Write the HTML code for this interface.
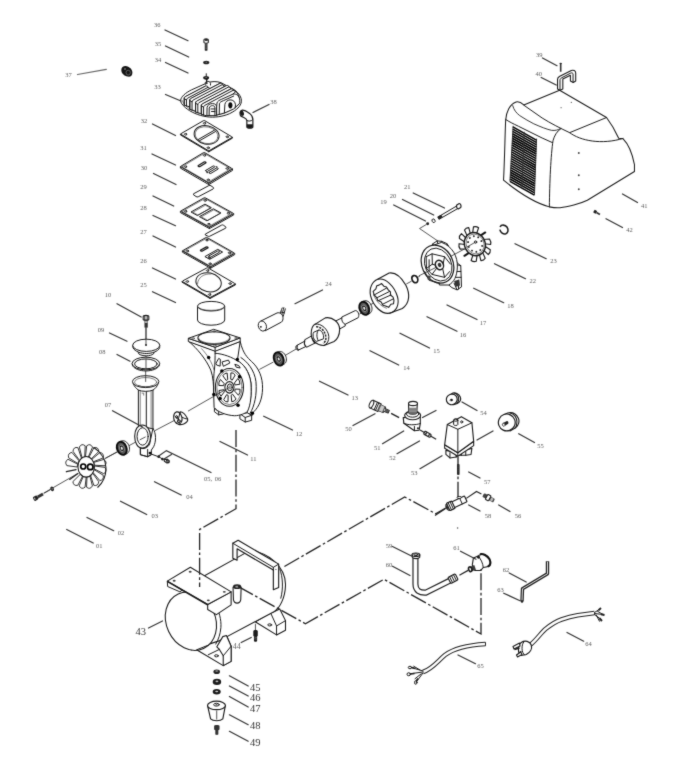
<!DOCTYPE html>
<html lang="en"><head><meta charset="utf-8"><title>Air compressor exploded parts diagram</title>
<style>
html,body{margin:0;padding:0;background:#fff;}
body{width:680px;height:768px;overflow:hidden;}
svg{display:block;}
svg *{vector-effect:non-scaling-stroke;}
.l{fill:none;stroke:#1a1a1a;stroke-width:1;stroke-linecap:round;stroke-linejoin:round;}
.t{fill:none;stroke:#3a3a3a;stroke-width:0.65;stroke-linecap:round;stroke-linejoin:round;}
.w{fill:#fff;stroke:#1a1a1a;stroke-width:1;stroke-linejoin:round;}
.k{fill:#0a0a0a;stroke:none;}
.ld{fill:none;stroke:#333;stroke-width:1.25;stroke-linecap:round;}
.d{fill:none;stroke:#222;stroke-width:1.3;stroke-dasharray:17 2.6 2.6 2.6;}
.c{fill:none;stroke:#2a2a2a;stroke-width:0.8;}
text{font-family:"Liberation Serif","DejaVu Serif",serif;font-size:6.5px;fill:#5c5c5c;}
text.b{font-size:10.5px;fill:#333;}
</style></head>
<body>
<svg width="680" height="768" viewBox="0 0 680 768">
<defs><filter id="soft" x="0" y="0" width="680" height="768" filterUnits="userSpaceOnUse" color-interpolation-filters="sRGB"><feConvolveMatrix order="3" kernelMatrix="0.02 0.08 0.02 0.08 0.6 0.08 0.02 0.08 0.02" divisor="1" edgeMode="duplicate" preserveAlpha="true"/></filter></defs>
<g filter="url(#soft)">
<rect width="680" height="768" fill="#fff"/>
<g id="head33" transform="translate(176,76) scale(0.102941)">
<!-- base flange -->
<path class="w" d="M45,235 C50,200 90,165 150,135 L300,68 C340,50 400,50 440,66 L565,135 C612,165 640,210 635,250 C630,292 590,332 520,366 C450,396 370,406 300,396 C220,385 140,350 90,306 C60,280 42,256 45,235 Z"/>
<path class="t" d="M62,240 C70,275 120,320 195,350 C265,378 350,388 425,372 C505,355 585,312 618,262"/>
<!-- fins back to front -->
<g style="stroke-width:0.98">
<path class="w" d="M80,284 L80,208 L287,98 L335,124 L128,298 Z"/>
<path class="w" d="M80,220 C80,210 86,202 98,196 L287,98 C299,94 311,100 311,110 L112,216 C106,220 102,226 102,234 Z"/>
<path class="l" d="M80,220 L80,284 M102,234 L102,292"/>
<path class="w" d="M134,324 L134,226 L426,72 L474,98 L182,338 Z"/>
<path class="w" d="M134,238 C134,228 140,220 152,214 L426,72 C438,68 450,74 450,84 L166,234 C160,238 156,244 156,252 Z"/>
<path class="l" d="M134,238 L134,324 M156,252 L156,332"/>
<path class="w" d="M190,350 L190,252 L490,93 L538,119 L238,364 Z"/>
<path class="w" d="M190,264 C190,254 196,246 208,240 L490,93 C502,89 514,95 514,105 L222,260 C216,264 212,270 212,278 Z"/>
<path class="l" d="M190,264 L190,350 M212,278 L212,358"/>
<path class="w" d="M246,372 L246,278 L533,126 L581,152 L294,386 Z"/>
<path class="w" d="M246,290 C246,280 252,272 264,266 L533,126 C545,122 557,128 557,138 L278,286 C272,290 268,296 268,304 Z"/>
<path class="l" d="M246,290 L246,372 M268,304 L268,380"/>
</g>
<!-- front boss -->
<path class="w" d="M300,385 L302,305 C305,280 330,268 355,268 C385,268 395,285 395,305 L395,385 Z"/>
<path class="l" d="M322,385 L323,312 C325,295 340,288 355,288 C372,288 378,298 378,312 L378,385"/>
<path class="l" d="M340,320 L378,320 M345,345 L378,345"/>
<!-- right block -->
<path class="w" d="M395,300 L398,262 C402,245 420,235 445,225 L545,180 C575,168 600,180 612,205 C622,228 622,255 615,270 L560,320 L470,360 L395,380 Z"/>
<path class="l" d="M420,372 L422,270 C425,255 440,247 460,240 L560,195"/>
<path class="l" d="M470,358 L475,275 C480,250 500,235 525,232 C555,230 575,250 578,280 L575,310"/>
<ellipse class="k" cx="528" cy="285" rx="20" ry="30"/>
<path class="l" d="M552,125 C580,140 600,165 612,205"/>
<!-- top stud -->
<path class="w" d="M285,85 L285,65 C285,55 300,50 312,52 C325,54 335,62 335,72 L335,92"/>
<path class="l" d="M298,75 L298,30 M290,30 L306,30"/>
</g>
<g id="bolts36" transform="translate(196,30) scale(0.136719)">
<!-- bolt 36 -->
<path class="w" d="M58,72 C58,62 90,62 90,72 L90,92 C90,98 58,98 58,92 Z" style="stroke-width:1.08"/>
<ellipse class="l" cx="74" cy="73" rx="9" ry="4"/>
<path d="M64,97 L84,97 L84,148 C84,153 64,153 64,148 Z" fill="#2a2a2a"/>
<path d="M68,104 L80,106 M68,114 L80,116 M68,124 L80,126 M68,134 L80,136" stroke="#999" stroke-width="0.4" fill="none"/>
<!-- washer 35 -->
<ellipse cx="75" cy="237" rx="23" ry="13" fill="#222"/>
<ellipse cx="75" cy="235" rx="7" ry="3" fill="#aaa"/>
<!-- washer 34 -->
<path class="l" d="M75,320 L75,338 M76,362 L80,392"/>
<ellipse cx="74" cy="349" rx="22" ry="13" fill="#1c1c1c"/>
<ellipse cx="74" cy="346" rx="8" ry="3.5" fill="#999"/>
<!-- elbow 38 -->
<path class="w" d="M338,586 C350,584 372,596 392,610 C408,622 416,636 416,655 L416,708 C416,722 372,722 372,708 L372,662 C372,652 362,646 350,640 L328,630 C318,622 322,590 338,586 Z" style="stroke-width:1.18"/>
<ellipse cx="335" cy="608" rx="15" ry="21" fill="#1a1a1a" transform="rotate(-20 335 608)"/>
<path d="M372,690 L416,690 L416,708 C416,722 372,722 372,708 Z" fill="#1a1a1a"/>
<path class="l" d="M372,662 C380,670 408,668 416,655"/>
</g>
<g id="plug37">
<path d="M121.3,70 C121.3,67 124,65.6 126.6,66.2 C129.5,66.8 132.3,69.2 132.4,72.4 C132.5,75.4 130.5,77.2 127.6,76.6 C124.4,76 121.3,73.4 121.3,70 Z" fill="#151515"/>
<ellipse cx="128.2" cy="72.6" rx="2.2" ry="2.4" fill="none" stroke="#888" stroke-width="0.6"/>
<ellipse cx="125" cy="69" rx="0.9" ry="0.7" fill="#999"/>
</g>

<g id="p32"><path class="w" d="M180.4,134 L180.4,134.9 L208.8,151.8 L232.5,138.1 L232.5,137.2 L208.8,150.9 Z"/>
<path class="l" d="M208.8,150.9 L208.8,151.8"/>
<g transform="matrix(23.7,-13.7,28.4,16.9,180.4,134)">
<g style="vector-effect:non-scaling-stroke" >
<rect class="w" x="0" y="0" width="1" height="1" rx="0.03" vector-effect="non-scaling-stroke"/>
<circle class="l" cx="0.1" cy="0.1" r="0.035" vector-effect="non-scaling-stroke"/>
<circle class="l" cx="0.9" cy="0.1" r="0.035" vector-effect="non-scaling-stroke"/>
<circle class="l" cx="0.1" cy="0.9" r="0.035" vector-effect="non-scaling-stroke"/>
<circle class="l" cx="0.9" cy="0.9" r="0.035" vector-effect="non-scaling-stroke"/>
<path class="l" d="M0.17,0.475 L0.86,0.475 M0.15,0.535 L0.84,0.535" vector-effect="non-scaling-stroke"/>
</g></g><ellipse class="l" cx="206.6" cy="134.9" rx="12.6" ry="9.2" transform="rotate(12 206.6 134.9)"/><ellipse class="t" cx="206.6" cy="135.2" rx="11.6" ry="8.3" transform="rotate(12 206.6 135.2)"/></g>
<g id="p31"><path class="w" d="M180.4,166.5 L180.4,168.1 L208.8,184.6 L232.5,170.4 L232.5,168.8 L208.8,183 Z"/>
<path class="l" d="M208.8,183 L208.8,184.6"/>
<g transform="matrix(23.7,-14.2,28.4,16.5,180.4,166.5)">
<g style="vector-effect:non-scaling-stroke" >
<rect class="w" x="0" y="0" width="1" height="1" rx="0.03" vector-effect="non-scaling-stroke"/>
<rect class="t" x="0.035" y="0.035" width="0.93" height="0.93" vector-effect="non-scaling-stroke"/>
<circle class="l" cx="0.1" cy="0.1" r="0.035" vector-effect="non-scaling-stroke"/>
<circle class="l" cx="0.9" cy="0.1" r="0.035" vector-effect="non-scaling-stroke"/>
<circle class="l" cx="0.1" cy="0.9" r="0.035" vector-effect="non-scaling-stroke"/>
<circle class="l" cx="0.9" cy="0.9" r="0.035" vector-effect="non-scaling-stroke"/>
<rect class="l" x="0.38" y="0.29" width="0.30" height="0.06" rx="0.03" style="stroke-width:1.27" vector-effect="non-scaling-stroke"/>
<rect class="l" x="0.36" y="0.57" width="0.36" height="0.06" rx="0.03" vector-effect="non-scaling-stroke"/>
<rect class="l" x="0.36" y="0.69" width="0.36" height="0.06" rx="0.03" vector-effect="non-scaling-stroke"/>
<circle class="k" cx="0.74" cy="0.66" r="0.025" vector-effect="non-scaling-stroke"/>
<circle class="k" cx="0.34" cy="0.66" r="0.025" vector-effect="non-scaling-stroke"/>
</g></g></g>
<path class="w" d="M193.5,193.8 L208.8,185.6 Q210,185 211,185.8 L213.5,187.6 Q214,188.5 213,189 L198.2,196.8 Q197,197.3 196,196.5 L193.5,194.8 Z"/>
<g id="p28"><path class="w" d="M180.4,211.2 L180.4,212.6 L209.4,228.6 L233.7,214.9 L233.7,213.5 L209.4,227.2 Z"/>
<path class="l" d="M209.4,227.2 L209.4,228.6"/>
<g transform="matrix(24.3,-13.7,29,16,180.4,211.2)">
<g style="vector-effect:non-scaling-stroke" >
<rect class="w" x="0" y="0" width="1" height="1" rx="0.03" vector-effect="non-scaling-stroke"/>
<rect class="t" x="0.035" y="0.035" width="0.93" height="0.93" vector-effect="non-scaling-stroke"/>
<circle class="l" cx="0.1" cy="0.1" r="0.035" vector-effect="non-scaling-stroke"/>
<circle class="l" cx="0.9" cy="0.1" r="0.035" vector-effect="non-scaling-stroke"/>
<circle class="l" cx="0.1" cy="0.9" r="0.035" vector-effect="non-scaling-stroke"/>
<circle class="l" cx="0.9" cy="0.9" r="0.035" vector-effect="non-scaling-stroke"/>
<rect class="l" x="0.20" y="0.21" width="0.56" height="0.22" vector-effect="non-scaling-stroke"/>
<rect class="t" x="0.23" y="0.25" width="0.50" height="0.18" vector-effect="non-scaling-stroke"/>
<rect class="l" x="0.20" y="0.50" width="0.56" height="0.26" vector-effect="non-scaling-stroke"/>
<rect class="t" x="0.23" y="0.54" width="0.50" height="0.22" vector-effect="non-scaling-stroke"/>
</g></g></g>
<path class="w" d="M205.3,234.1 L221.6,225.1 Q222.6,224.6 223.4,225.2 L225.9,227 Q226.4,227.8 225.4,228.3 L209.6,236.3 Q208.6,236.7 207.8,236.1 L205.3,235 Z"/>
<g id="p27"><path class="w" d="M182.4,250.8 L182.4,252.2 L210.6,268.2 L234.7,254.6 L234.7,253.2 L210.6,266.8 Z"/>
<path class="l" d="M210.6,266.8 L210.6,268.2"/>
<g transform="matrix(24.1,-13.6,28.2,16,182.4,250.8)">
<g style="vector-effect:non-scaling-stroke" >
<rect class="w" x="0" y="0" width="1" height="1" rx="0.03" vector-effect="non-scaling-stroke"/>
<rect class="t" x="0.035" y="0.035" width="0.93" height="0.93" vector-effect="non-scaling-stroke"/>
<circle class="l" cx="0.1" cy="0.1" r="0.035" vector-effect="non-scaling-stroke"/>
<circle class="l" cx="0.9" cy="0.1" r="0.035" vector-effect="non-scaling-stroke"/>
<circle class="l" cx="0.1" cy="0.9" r="0.035" vector-effect="non-scaling-stroke"/>
<circle class="l" cx="0.9" cy="0.9" r="0.035" vector-effect="non-scaling-stroke"/>
<rect class="l" x="0.38" y="0.30" width="0.28" height="0.06" rx="0.03" style="stroke-width:1.37" vector-effect="non-scaling-stroke"/>
<rect class="l" x="0.27" y="0.58" width="0.52" height="0.17" vector-effect="non-scaling-stroke"/>
<rect class="l" x="0.33" y="0.63" width="0.42" height="0.07" rx="0.035" vector-effect="non-scaling-stroke"/>
<circle class="l" cx="0.30" cy="0.70" r="0.03" vector-effect="non-scaling-stroke"/>
</g></g></g>
<g id="p26"><path class="w" d="M182,281.3 L182,282.2 L210,298.5 L235.5,284.8 L235.5,283.9 L210,297.6 Z"/>
<path class="l" d="M210,297.6 L210,298.5"/>
<g transform="matrix(25.5,-13.7,28,16.3,182,281.3)">
<g style="vector-effect:non-scaling-stroke" >
<rect class="w" x="0" y="0" width="1" height="1" rx="0.03" vector-effect="non-scaling-stroke"/>
<circle class="l" cx="0.1" cy="0.1" r="0.035" vector-effect="non-scaling-stroke"/>
<circle class="l" cx="0.9" cy="0.1" r="0.035" vector-effect="non-scaling-stroke"/>
<circle class="l" cx="0.1" cy="0.9" r="0.035" vector-effect="non-scaling-stroke"/>
<circle class="l" cx="0.9" cy="0.9" r="0.035" vector-effect="non-scaling-stroke"/>
</g></g><ellipse class="l" cx="208.6" cy="282.3" rx="12.8" ry="9.4" transform="rotate(12 208.6 282.3)"/><path class="t" d="M197.5,284 C198,277 204,273.5 211,274"/></g>
<g id="p25"><path class="w" d="M197.5,306.2 L197.5,320 A13.6,5.2 0 0 0 224.7,320 L224.7,306.2 Z"/><ellipse class="w" cx="211.1" cy="306.2" rx="13.6" ry="4.8"/><path class="t" d="M198.5,307.2 C200,311.5 222,311.5 223.7,307.2"/></g>
<g id="rod07" transform="translate(100,370) scale(0.132353)">
<!-- axis lines -->
<path class="c" d="M40,668 L300,528 M415,458 L560,382"/>
<!-- rod body -->
<path class="w" d="M250,100 C258,125 275,140 290,152 L290,420 L400,445 L400,152 C418,140 435,122 440,100 Z"/>
<path class="t" d="M304,160 L304,415 M386,160 L386,440"/><path class="l" d="M350,165 L350,430"/>
<path class="l" d="M290,152 C320,165 370,165 400,152"/>
<path class="t" d="M318,175 L330,175 L330,190"/>
<!-- top cup -->
<ellipse class="w" cx="345" cy="88" rx="100" ry="45"/>
<ellipse class="t" cx="345" cy="92" rx="84" ry="35"/>
<path class="t" d="M290,118 C320,130 370,130 400,118"/>
<path class="c" d="M345,0 L345,90"/>
<!-- big end -->
<path class="w" d="M400,440 C425,480 425,540 405,580 L388,605 L388,640 L360,655 L305,640 L305,590 C330,600 360,590 375,560 Z"/>
<path class="w" d="M320,415 C355,415 382,455 382,505 C382,555 355,590 320,590 C285,590 262,550 262,500 C262,452 285,415 320,415 Z" style="stroke-width:1.08"/>
<ellipse class="l" cx="322" cy="502" rx="42" ry="66"/>
<path class="l" d="M305,590 L305,640 L360,655 L360,600 M360,655 L388,640"/>
<circle class="k" cx="378" cy="628" r="11"/>
<path class="c" d="M300,528 L345,505"/>
</g>
<g id="cw" transform="translate(140,400) scale(0.091185)">

<path class="w" d="M440,128 C470,130 500,160 522,205 C528,225 510,250 480,262 C460,270 440,272 425,268 Z" style="stroke-width:1.08"/>
<path class="l" d="M462,190 C480,200 505,208 522,210"/>
<ellipse class="w" cx="415" cy="197" rx="45" ry="68" style="stroke-width:1.13" transform="rotate(-12 415 197)"/>
<path class="l" d="M420,215 L438,138 M420,215 L382,175 M420,215 L400,258"/>
<ellipse class="l" cx="428" cy="232" rx="13" ry="17"/>
<ellipse class="l" cx="402" cy="185" rx="10" ry="15"/>
<!-- items 05 06 -->
<path class="l" d="M132,596 L192,618 M215,628 L238,642"/>
<circle cx="205" cy="622" r="15" fill="#1a1a1a"/>
<circle cx="246" cy="648" r="15" fill="#1a1a1a"/>
<path class="w" d="M262,652 L300,650 L322,668 L318,688 L292,690 L268,672 Z" style="stroke-width:1.13"/>
<path class="l" d="M285,652 L300,688 M300,650 L312,686"/>
<path class="ld" d="M268,645 L345,597" style="stroke-width:1.18"/>
</g>
<g id="cap09" transform="translate(110,300) scale(0.117647)">
<path class="c" d="M306,235 L306,380 M306,475 L306,600"/>
<!-- bolt 10 -->
<path class="w" d="M282,140 C282,128 330,128 330,140 L330,165 C330,173 282,173 282,165 Z" style="stroke-width:1.08"/>
<path class="l" d="M296,133 L296,170 M316,133 L316,170"/>
<path d="M293,172 L321,172 L321,232 C321,238 293,238 293,232 Z" fill="#333"/>
<path d="M295,180 L319,180 L319,195 L295,195 Z" fill="#bbb"/>
<!-- cap -->
<path class="w" d="M232,420 L245,458 C270,480 345,480 370,458 L385,420 Z"/>
<path class="w" d="M193,385 L195,405 C210,440 270,455 308,455 C350,455 410,440 422,405 L423,385 Z"/>
<ellipse class="w" cx="308" cy="385" rx="115" ry="52"/>
<circle class="k" cx="306" cy="382" r="8"/><path class="c" d="M306,235 L306,380"/>
<!-- ring 08 -->
<path class="w" d="M188,540 L190,552 C200,585 255,603 305,603 C355,603 412,585 420,552 L422,540 Z"/>
<ellipse class="w" cx="305" cy="540" rx="117" ry="54"/>
<ellipse class="l" cx="305" cy="543" rx="96" ry="42"/>
<path class="c" d="M306,500 L306,585"/>
</g>
<g id="bearing_rod"><g transform="translate(121.8,448.3) rotate(-22)">
<path d="M0,-6.9 L2.2,-6.9 C5.4,-6.9 7.6,-3.8 7.6,0 C7.6,3.8 5.4,6.9 2.2,6.9 L0,6.9 Z" fill="#fff" stroke="#222" stroke-width="0.98"/>
<ellipse cx="0" cy="0" rx="4.7" ry="6.8" fill="#555" stroke="#0a0a0a" stroke-width="1.86"/>
<ellipse cx="0" cy="0" rx="2.2" ry="3.4" fill="#111" stroke="#eee" stroke-width="0.5"/>
<ellipse cx="0" cy="0" rx="1" ry="1.6" fill="#eee"/>
</g></g>

<g id="fan03" transform="translate(25,435) scale(0.132353)">
<path class="c" d="M140,440 L400,290 M600,180 L700,125"/>
<path class="w" style="stroke-width:0.88" d="M525.0,234.0 L604.0,244.7 Q624.1,274.0 595.1,292.6 L523.0,255.9 Z"/>
<path class="w" style="stroke-width:0.88" d="M521.5,261.2 L590.7,303.9 Q598.8,339.4 565.5,344.5 L511.8,280.7 Z"/>
<path class="w" style="stroke-width:0.88" d="M508.6,285.0 L557.5,353.1 Q552.5,389.2 519.9,380.1 L492.8,298.9 Z"/>
<path class="w" style="stroke-width:0.88" d="M488.3,301.5 L509.4,384.8 Q492.1,416.1 465.1,394.1 L468.8,307.9 Z"/>
<path class="w" style="stroke-width:0.88" d="M463.7,308.4 L453.8,394.1 Q426.7,415.8 409.6,384.4 L443.4,306.2 Z"/>
<path class="w" style="stroke-width:0.88" d="M438.6,304.6 L399.2,379.6 Q366.5,388.5 361.8,352.3 L420.6,294.2 Z"/>
<path d="M400.0,291.2 L337.7,335.7" stroke="#222" stroke-width="1.27" fill="none" stroke-linecap="round"/>
<path d="M385.8,262.2 L312.6,277.6" stroke="#222" stroke-width="1.27" fill="none" stroke-linecap="round"/>
<path class="w" style="stroke-width:0.88" d="M395.0,242.0 L316.0,231.3 Q295.9,202.0 324.9,183.4 L397.0,220.1 Z"/>
<path class="w" style="stroke-width:0.88" d="M398.5,214.8 L329.3,172.1 Q321.2,136.6 354.5,131.5 L408.2,195.3 Z"/>
<path class="w" style="stroke-width:0.88" d="M411.4,191.0 L362.5,122.9 Q367.5,86.8 400.1,95.9 L427.2,177.1 Z"/>
<path class="w" style="stroke-width:0.88" d="M431.7,174.5 L410.6,91.2 Q427.9,59.9 454.9,81.9 L451.2,168.1 Z"/>
<path class="w" style="stroke-width:0.88" d="M456.3,167.6 L466.2,81.9 Q493.3,60.2 510.4,91.6 L476.6,169.8 Z"/>
<path class="w" style="stroke-width:0.88" d="M481.4,171.4 L520.8,96.4 Q553.5,87.5 558.2,123.7 L499.4,181.8 Z"/>
<path class="w" style="stroke-width:0.88" d="M503.3,185.3 L566.2,132.4 Q599.5,137.7 591.1,173.1 L516.2,202.4 Z"/>
<path class="w" style="stroke-width:0.88" d="M518.6,207.3 L595.4,184.5 Q624.3,203.3 604.1,232.4 L524.5,228.5 Z"/>
<path class="l" d="M520,95 C575,130 610,190 612,250 C612,310 590,360 550,395" style="stroke-width:1.08"/>
<ellipse class="w" cx="462" cy="240" rx="62" ry="78" style="stroke-width:1.08"/>
<circle cx="440" cy="238" r="19" fill="#fff" stroke="#000" stroke-width="1.67"/>
<circle cx="493" cy="241" r="21" fill="#fff" stroke="#000" stroke-width="1.67"/>
<g transform="rotate(-30 85 475)"><rect x="62" y="458" width="36" height="34" rx="10" fill="#222"/><ellipse cx="72" cy="475" rx="5" ry="9" fill="#bbb"/><rect x="98" y="464" width="46" height="22" fill="#333"/></g>
<ellipse cx="205" cy="407" rx="13" ry="18" fill="#222" transform="rotate(-25 205 407)"/><ellipse cx="205" cy="407" rx="4" ry="7" fill="#aaa"/>
<path class="c" d="M145,440 L192,413"/>
</g>
<g id="case12" transform="translate(180,320) scale(0.143312)">
<path class="w" d="M420,150 C440,235 470,262 500,290 C550,335 578,400 576,480 C574,550 552,605 515,640 L505,665 L470,650 L400,300 L395,200 Z"/>
<path class="l" d="M400,285 C440,300 485,360 495,440 C502,520 490,590 465,635"/>
<path class="l" d="M425,262 C470,290 520,350 530,430 C538,520 520,600 490,650"/>
<path class="w" d="M240,615 L240,640 L270,662 L305,655 L305,630 Z"/><path class="l" d="M270,640 L270,662 M240,615 L270,640 L305,630"/>
<path class="w" d="M418,655 L418,690 L455,712 L500,700 L500,665 L470,648 Z"/><path class="l" d="M455,680 L455,712 M418,655 L455,680 L500,665"/>
<path class="w" d="M62,150 C120,200 180,270 215,350 C232,400 235,450 235,520 L238,610 C260,640 320,665 380,668 C420,668 455,650 470,640 C495,590 500,520 495,440 C485,360 440,300 400,285 L420,150 L245,215 Z"/>
<path class="l" d="M245,215 C245,260 245,300 240,350 C235,380 235,420 235,520"/>
<path class="t" d="M150,200 C190,240 225,300 238,350"/>
<path class="l" d="M245,232 C300,235 370,262 400,285"/>
<ellipse class="w" cx="345" cy="470" rx="98" ry="132" style="stroke-width:1.08"/>
<ellipse class="t" cx="345" cy="470" rx="88" ry="120"/>
<path class="l" d="M388,482 L419,483 Q422,508 408,525 L384,499 Z"/>
<path class="l" d="M369,520 L391,551 Q380,571 361,570 L357,528 Z"/>
<path class="l" d="M336,529 L335,571 Q317,575 305,556 L324,523 Z"/>
<path class="l" d="M308,503 L286,532 Q271,517 272,492 L303,487 Z"/>
<path class="l" d="M302,458 L271,457 Q268,432 282,415 L306,441 Z"/>
<path class="l" d="M321,420 L299,389 Q310,369 329,370 L333,412 Z"/>
<path class="l" d="M354,411 L355,369 Q373,365 385,384 L366,417 Z"/>
<path class="l" d="M382,437 L404,408 Q419,423 418,448 L387,453 Z"/>
<ellipse class="w" cx="345" cy="470" rx="32" ry="40" style="stroke-width:1.08"/>
<ellipse class="l" cx="348" cy="470" rx="18" ry="24"/>
<ellipse class="t" cx="350" cy="470" rx="8" ry="11"/>
<path class="l" d="M252,300 L270,268 L282,275 L280,322 L258,315 Z"/>
<path class="l" d="M296,292 L338,280 L348,300 L305,322 Z"/>
<path class="l" d="M385,310 L410,318 L420,335 L395,330 Z"/>
<circle cx="200" cy="262" r="12" fill="#000"/>
<circle cx="400" cy="276" r="12" fill="#000"/>
<circle cx="292" cy="355" r="12" fill="#000"/>
<circle cx="415" cy="396" r="12" fill="#000"/>
<circle cx="280" cy="548" r="12" fill="#000"/>
<circle cx="405" cy="595" r="12" fill="#000"/>
<circle cx="505" cy="650" r="12" fill="#000"/>
<circle cx="236" cy="520" r="12" fill="#000"/>
<path class="w" d="M58,128 L58,150 L245,218 L420,150 L420,125 L245,190 Z"/>
<path class="l" d="M245,190 L245,218"/>
<path class="w" d="M58,128 L235,65 L420,125 L245,190 Z"/>
<ellipse class="l" cx="237" cy="126" rx="112" ry="44" style="stroke-width:1.08"/>
<path class="t" d="M130,128 C135,150 190,165 240,164 C290,163 335,148 345,128"/>
<ellipse class="t" cx="92" cy="128" rx="9" ry="5"/>
<ellipse class="t" cx="243" cy="176" rx="9" ry="5"/>
<ellipse class="t" cx="390" cy="126" rx="9" ry="5"/>
<ellipse class="t" cx="238" cy="80" rx="9" ry="5"/>
<path class="c" d="M56,636 L345,470"/>
</g>
<g id="motorA" transform="translate(255,290) scale(0.147059)">
<path class="c" d="M30,540 L125,490 M205,445 L282,400"/>
<!-- capacitor 24 -->
<path class="l" d="M172,168 C172,150 180,135 185,122 M182,172 C185,155 192,140 196,120 M192,178 C196,160 202,150 206,128 M178,150 L200,155"/>
<path class="w" d="M38,212 L150,156 C170,150 188,165 190,185 C192,200 188,212 180,218 L68,278 Z"/>
<ellipse class="w" cx="50" cy="245" rx="27" ry="35" transform="rotate(-20 50 245)"/>
<circle class="k" cx="40" cy="250" r="6"/>
</g>
<g id="motorB" transform="translate(320,260) scale(0.147059)">
<path class="c" d="M268,368 L285,358"/>
<!-- oring 16 -->

</g>
<g id="rotor13" transform="translate(290,300) scale(0.117647)">
<!-- right shaft -->
<path class="w" d="M375,185 L440,153 L440,145 L555,90 C580,88 592,130 580,150 L468,207 L470,220 L415,250 Z"/>
<path class="l" d="M440,153 C436,175 450,200 468,207"/>
<!-- left shaft -->
<path class="w" d="M58,386 L125,350 L125,338 L190,302 L200,275 L250,252 L285,330 L215,365 L140,402 L136,395 L70,426 C50,428 42,392 58,386 Z"/>
<path class="l" d="M125,350 C120,368 126,388 136,395 M190,302 C184,325 195,355 212,366 M62,388 C56,400 62,418 72,424" style="stroke-width:1.18"/>
<!-- body -->
<path class="w" d="M215,205 L300,152 C360,140 422,190 422,250 C422,300 400,340 375,352 L290,386 C230,390 180,340 180,290 C180,250 195,215 215,205 Z" style="stroke-width:1.13"/>
<path class="l" d="M215,205 C265,195 325,250 330,310 C332,345 318,375 290,386"/>
<path d="M222,228 C260,225 300,265 305,312 C308,340 298,360 280,368" fill="none" stroke="#222" stroke-width="1.47" stroke-dasharray="2.2 1"/>
<path class="w" d="M200,275 L245,255 C270,258 290,290 285,330 L225,352 C200,345 190,300 200,275 Z"/>
<path class="l" d="M245,255 C225,262 222,320 240,345"/>
</g>
<g id="bearings"><g transform="translate(278.7,359) rotate(-22)">
<path d="M0,-6.9 L2.2,-6.9 C5.4,-6.9 7.6,-3.8 7.6,0 C7.6,3.8 5.4,6.9 2.2,6.9 L0,6.9 Z" fill="#fff" stroke="#222" stroke-width="0.98"/>
<ellipse cx="0" cy="0" rx="4.7" ry="6.8" fill="#555" stroke="#0a0a0a" stroke-width="1.86"/>
<ellipse cx="0" cy="0" rx="2.2" ry="3.4" fill="#111" stroke="#eee" stroke-width="0.5"/>
<ellipse cx="0" cy="0" rx="1" ry="1.6" fill="#eee"/>
</g><g transform="translate(364.3,308.3) rotate(-22)">
<path d="M0,-6.9 L2.2,-6.9 C5.4,-6.9 7.6,-3.8 7.6,0 C7.6,3.8 5.4,6.9 2.2,6.9 L0,6.9 Z" fill="#fff" stroke="#222" stroke-width="0.98"/>
<ellipse cx="0" cy="0" rx="4.7" ry="6.8" fill="#555" stroke="#0a0a0a" stroke-width="1.86"/>
<ellipse cx="0" cy="0" rx="2.2" ry="3.4" fill="#111" stroke="#eee" stroke-width="0.5"/>
<ellipse cx="0" cy="0" rx="1" ry="1.6" fill="#eee"/>
</g></g>
<g id="stator15" transform="translate(360,265) scale(0.088235)">
<path class="c" d="M110,455 L165,425 M525,215 L585,183 M660,135 L680,125"/>
<path class="w" d="M200,162 L330,90 C400,80 470,140 520,230 C565,320 570,430 480,492 L335,546 C250,560 150,470 120,350 C100,260 140,185 200,162 Z" style="stroke-width:1.13"/>
<path class="l" d="M200,162 C290,140 390,240 425,360 C450,450 410,530 335,546" style="stroke-width:1.08"/>
<path class="l" d="M150,300 L180,270 L190,235 L215,228 L245,210 L270,240 L300,250 L320,282 L345,305 L345,340 L375,365 L385,400 L380,440 L350,445 L325,480 L290,465 L260,455 L240,420 L200,400 L190,370 L160,340 Z" style="stroke-width:1.08"/>
<path class="l" d="M160,340 L300,262 M190,372 L335,300 M205,405 L350,340 M250,448 L375,385"/>
<path class="t" d="M150,300 C150,380 230,470 300,490"/>
<ellipse cx="622" cy="160" rx="32" ry="42" fill="#fff" stroke="#151515" stroke-width="1.67" transform="rotate(-20 622 160)"/>
</g>

<g id="bell18" transform="translate(410,195) scale(0.147059)">
<path class="c" d="M112,200 L65,228 L188,312"/>
<path class="w" d="M190,150 L322,72 L332,88 L198,165 Z"/>
<path d="M186,148 L212,134 L222,150 L196,166 Z" fill="#222"/>
<path class="w" d="M318,68 L335,58 C345,58 350,75 345,85 L328,95 C318,92 314,78 318,68 Z" style="stroke-width:1.18"/>
<ellipse class="w" cx="160" cy="175" rx="10" ry="13" transform="rotate(-25 160 175)"/>
<circle cx="120" cy="195" r="10" fill="#222"/>
<path class="w" d="M250,330 L262,345 L262,400 L330,470 L345,480 L348,560 L350,625 L320,645 L285,630 L250,600 Z"/>
<path class="l" d="M300,470 L345,480 M310,560 L348,560 M300,600 L320,645 M315,520 L345,520 M330,580 L330,640"/>
<path d="M300,585 L335,575 L340,615 L310,625 Z" fill="#333"/>
<path class="w" d="M150,335 L185,312 L215,315 L250,330 L250,360 L180,350 Z"/>
<path class="l" d="M185,312 L190,335 M215,315 L218,340"/>
<path class="w" d="M150,345 L215,322 C290,350 325,420 322,490 C320,550 300,595 262,612 L200,612 Z"/>
<ellipse class="w" cx="187" cy="470" rx="105.5" ry="134" style="stroke-width:1.23" transform="rotate(-25 187 470)"/>
<ellipse class="l" cx="192" cy="473" rx="89" ry="116" transform="rotate(-25 192 473)"/>
<path class="l" d="M110,420 L150,400 L235,420 L275,470 M110,420 L112,500 L150,540 L235,560 L270,520 M150,400 L152,470 M152,470 L112,500 M152,470 L180,480 M235,420 L225,470 M235,560 L222,500 M150,540 L180,500"/>
<path class="l" d="M100,520 L130,580 L200,600 M130,440 L130,510"/>
<ellipse class="w" cx="200" cy="476" rx="27" ry="33" style="stroke-width:1.47" transform="rotate(-25 200 476)"/>
<ellipse cx="201" cy="476" rx="12" ry="15" fill="#333" transform="rotate(-25 201 476)"/>
<path d="M118,545 L140,552 L138,585 L120,575 Z" fill="#444"/>
<path class="c" d="M60,550 L178,492 M272,420 L440,330"/>
<g transform="rotate(-25 441 334)">
<path class="w" style="stroke-width:1.13" d="M507,330 L546,345 Q550,366 537,382 L503,360 Z"/>
<path class="w" style="stroke-width:1.13" d="M497,376 L520,413 Q513,433 494,437 L478,397 Z"/>
<path class="w" style="stroke-width:1.13" d="M465,405 L464,451 Q448,462 431,453 L439,410 Z"/>
<path class="w" style="stroke-width:1.13" d="M424,407 L400,444 Q381,442 371,424 L400,394 Z"/>
<path d="M379,371 L343,376" stroke="#111" stroke-width="1.96" fill="none" stroke-linecap="round"/>
<path class="w" style="stroke-width:1.13" d="M375,338 L336,323 Q332,302 345,286 L379,308 Z"/>
<path class="w" style="stroke-width:1.13" d="M385,292 L362,255 Q369,235 388,231 L404,271 Z"/>
<path class="w" style="stroke-width:1.13" d="M417,263 L418,217 Q434,206 451,215 L443,258 Z"/>
<path class="w" style="stroke-width:1.13" d="M458,261 L482,224 Q501,226 511,244 L482,274 Z"/>
<path d="M503,297 L539,292" stroke="#111" stroke-width="1.96" fill="none" stroke-linecap="round"/>
<ellipse class="w" cx="441" cy="334" rx="70" ry="80" style="stroke-width:1.47"/>
<ellipse class="t" cx="443" cy="334" rx="60" ry="69"/>
<circle cx="490" cy="334" r="6.5" fill="#222"/>
<circle cx="481" cy="366" r="6.5" fill="#222"/>
<circle cx="458" cy="386" r="6.5" fill="#222"/>
<circle cx="428" cy="386" r="6.5" fill="#222"/>
<circle cx="405" cy="366" r="6.5" fill="#222"/>
<circle cx="396" cy="334" r="6.5" fill="#222"/>
<circle cx="405" cy="302" r="6.5" fill="#222"/>
<circle cx="428" cy="282" r="6.5" fill="#222"/>
<circle cx="458" cy="282" r="6.5" fill="#222"/>
<circle cx="481" cy="302" r="6.5" fill="#222"/>
</g>
<circle class="l" cx="446" cy="320" r="8"/>
<path class="c" d="M385,355 L446,320"/>
<path d="M618,212 C630,196 656,204 664,226 C670,246 660,264 644,266 C626,267 611,248 612,228" fill="none" stroke="#1a1a1a" stroke-width="1.57" transform="rotate(-15 638 235)"/>
</g>
<g id="cover41" transform="translate(495,80) scale(0.213235)">
<path class="w" d="M99,103 C110,100 125,108 135,117 L303,48 L523,176 C545,205 565,240 580,273 L600,275 C625,300 645,350 654,397 L654,429 L433,564 C400,580 340,597 305,599 C290,600 270,598 255,595 C200,580 120,535 40,470 C45,380 47,250 50,189 C52,150 70,112 99,103 Z" style="stroke-width:1.03"/>
<path class="l" d="M135,118 L221,178 C260,203 310,228 350,247 L523,176"/>
<path class="l" d="M83,120 C88,140 100,155 116,167 C140,182 160,195 182,205.5 C215,220 245,232 265,236 C282,238 295,235 306,228" style="stroke-width:0.88"/>
<path class="l" d="M50,185 C65,195 85,205 110,217 L221,272 L270,294"/>
<path class="l" d="M309,228 C290,240 278,262 272,285 C262,350 256,480 255,595"/>
<path class="l" d="M350,247 C400,285 500,305 600,274"/>
<path d="M84.0,220.0 L196.0,283.0" stroke="#000" stroke-width="1.52" fill="none"/>
<path d="M83.4,230.6 L195.5,293.7" stroke="#000" stroke-width="1.52" fill="none"/>
<path d="M82.8,241.2 L195.1,304.4" stroke="#000" stroke-width="1.52" fill="none"/>
<path d="M82.2,251.9 L194.6,315.1" stroke="#000" stroke-width="1.52" fill="none"/>
<path d="M81.7,262.5 L194.2,325.8" stroke="#000" stroke-width="1.52" fill="none"/>
<path d="M81.1,273.1 L193.7,336.5" stroke="#000" stroke-width="1.52" fill="none"/>
<path d="M80.5,283.8 L193.2,347.2" stroke="#000" stroke-width="1.52" fill="none"/>
<path d="M79.9,294.4 L192.8,358.0" stroke="#000" stroke-width="1.52" fill="none"/>
<path d="M79.3,305.0 L192.3,368.7" stroke="#000" stroke-width="1.52" fill="none"/>
<path d="M78.8,315.6 L191.9,379.4" stroke="#000" stroke-width="1.52" fill="none"/>
<path d="M78.2,326.2 L191.4,390.1" stroke="#000" stroke-width="1.52" fill="none"/>
<path d="M77.6,336.9 L191.0,400.8" stroke="#000" stroke-width="1.52" fill="none"/>
<path d="M77.0,347.5 L190.5,411.5" stroke="#000" stroke-width="1.52" fill="none"/>
<path d="M76.4,358.1 L190.0,422.2" stroke="#000" stroke-width="1.52" fill="none"/>
<path d="M75.8,368.8 L189.6,432.9" stroke="#000" stroke-width="1.52" fill="none"/>
<path d="M75.2,379.4 L189.1,443.6" stroke="#000" stroke-width="1.52" fill="none"/>
<path d="M74.7,390.0 L188.7,454.3" stroke="#000" stroke-width="1.52" fill="none"/>
<path d="M74.1,400.6 L188.2,465.0" stroke="#000" stroke-width="1.52" fill="none"/>
<path d="M73.5,411.2 L187.8,475.8" stroke="#000" stroke-width="1.52" fill="none"/>
<path d="M72.9,421.9 L187.3,486.5" stroke="#000" stroke-width="1.52" fill="none"/>
<path d="M72.3,432.5 L186.8,497.2" stroke="#000" stroke-width="1.52" fill="none"/>
<path d="M71.8,443.1 L186.4,507.9" stroke="#000" stroke-width="1.52" fill="none"/>
<path d="M71.2,453.8 L185.9,518.6" stroke="#000" stroke-width="1.52" fill="none"/>
<path d="M70.6,464.4 L185.5,529.3" stroke="#000" stroke-width="1.52" fill="none"/>
<path d="M70.0,475.0 L185.0,540.0" stroke="#000" stroke-width="1.52" fill="none"/>
<path d="M85,215 L70,475 M195,275 L185,540" stroke="#222" stroke-width="0.88" fill="none"/>
<path d="M137,243 L126,505" stroke="#333" stroke-width="0.98" fill="none"/>
<circle cx="310" cy="130" r="3" fill="#666"/>
<circle cx="358" cy="105" r="3" fill="#666"/>
<circle cx="393" cy="342" r="4.5" fill="#444"/>
<circle cx="393" cy="447" r="4.5" fill="#444"/>
<circle cx="393" cy="512" r="4.5" fill="#444"/>
</g>
<g id="handle40" transform="translate(490,40) scale(0.25)">
<g transform="translate(160,20) scale(0.35294)"><path class="w" d="M312,500 L312,388 C312,372 322,362 338,354 L468,288 C492,280 518,292 518,316 L518,408 L490,424 L458,408 L458,342 L372,386 L372,500 L340,512 Z" style="stroke-width:1.08"/><path class="l" d="M340,512 L340,398 C340,386 348,378 358,372 L462,318 C476,312 488,318 488,330 L488,424"/></g>
<path d="M279.5,95 L286,95 L286,127 L279.5,127 Z" fill="#333"/><ellipse cx="282.7" cy="94" rx="5" ry="3" fill="#222"/>
<g transform="rotate(30 427 690)"><rect x="414" y="684" width="12" height="13" rx="3" fill="#222"/><rect x="426" y="687" width="16" height="7" fill="#333"/></g>
</g>
<g id="p50_52" transform="translate(365,390) scale(0.117647)">
<!-- coupler 50 -->
<g transform="rotate(24 55 120)">
<path class="w" d="M55,85 L130,85 L130,95 L175,95 L175,108 L215,108 L215,132 L175,132 L175,145 L130,145 L130,155 L55,155 Z" style="stroke-width:1.08"/>
<path d="M120,92 L175,92 L175,148 L120,148 Z" fill="#555"/>
<path d="M135,96 L165,96 L165,144 L135,144 Z" fill="#ccc"/>
<path d="M180,108 L210,108 L210,132 L180,132 Z" fill="#555"/>
<path class="l" d="M95,85 L95,155 M108,85 L108,155"/>
<ellipse class="w" cx="55" cy="120" rx="16" ry="35" style="stroke-width:1.08"/>
</g>
<path d="M222,198 L290,235" stroke="#222" stroke-width="1.37" fill="none"/>
<!-- regulator 51 -->
<path class="w" d="M325,235 L330,282 L420,346 L460,342 L470,285 L470,225 Z" style="stroke-width:1.13"/>
<path class="l" d="M330,282 C360,300 430,300 470,285 M420,346 L420,310"/>
<ellipse class="w" cx="405" cy="215" rx="68" ry="38" style="stroke-width:1.13"/>
<ellipse class="l" cx="405" cy="205" rx="52" ry="26"/>
<path class="w" d="M370,115 L372,195 C380,210 432,210 440,195 L445,115 Z" style="stroke-width:1.08"/>
<path d="M372,150 L442,150 L441,195 C432,210 380,210 372,195 Z" fill="#666"/>
<path d="M374,160 L440,160 M374,172 L440,172 M374,184 L440,184" stroke="#ddd" stroke-width="0.4" fill="none"/>
<ellipse class="w" cx="408" cy="115" rx="38" ry="18" style="stroke-width:1.08"/>
<circle cx="450" cy="326" r="9" fill="#222"/>
<!-- nipple 52 -->
<path d="M468,340 L605,418" stroke="#222" stroke-width="1.18" fill="none"/>
<g transform="rotate(30 530 376)"><rect x="500" y="362" width="62" height="28" rx="8" fill="#fff" stroke="#222" stroke-width="1.18"/><rect x="510" y="362" width="14" height="28" fill="#333"/><rect x="540" y="362" width="12" height="28" fill="#333"/></g>
</g>
<g id="p53_58" transform="translate(435,385) scale(0.175781)">
<!-- pressure switch 53 -->
<path class="w" d="M62,372 L62,395 L85,415 L120,410 L130,400 L175,400 L205,395 L210,360 L130,385 Z" style="stroke-width:1.08"/>
<path class="l" d="M85,385 L85,415 M120,390 L120,410 M175,375 L175,400 M150,385 L150,400"/>
<path class="w" d="M55,340 L55,360 L130,405 L220,345 L220,320 L130,385 Z" style="stroke-width:1.08"/>
<path class="w" d="M70,225 L150,180 L210,215 L220,320 L130,385 L55,340 Z" style="stroke-width:1.13"/>
<path class="l" d="M70,225 L130,252 L210,215 M130,252 L130,385 M130,385 L130,405"/>
<path class="w" d="M106,200 C106,190 130,190 130,200 L130,225 C130,232 106,232 106,225 Z"/>
<ellipse class="l" cx="118" cy="200" rx="12" ry="6"/>
<circle class="l" cx="152" cy="210" r="6"/>
<!-- nipple 57 and dash line -->
<rect x="125" y="450" width="15" height="62" rx="5" fill="#333"/>
<path d="M129,460 L136,460 M129,470 L136,470 M129,480 L136,480 M129,490 L136,490" stroke="#bbb" stroke-width="0.4"/>
<!-- tee 58 -->
<g transform="rotate(-25 120 672)">
<rect x="62" y="655" width="118" height="36" rx="4" class="w" style="stroke-width:1.13"/>
<rect x="70" y="650" width="32" height="46" rx="3" class="w" style="stroke-width:1.13"/>
<path class="l" d="M80,650 L80,696 M92,650 L92,696 M150,655 L150,691"/>
<rect x="56" y="662" width="14" height="22" fill="#333"/>
</g>
<ellipse class="w" cx="138" cy="640" rx="12" ry="6"/>
<path d="M178,645 L236,606 L264,620" fill="none" stroke="#222" stroke-width="1.18"/>
<path d="M0,742 L58,704" fill="none" stroke="#222" stroke-width="1.18"/>
<!-- part 56 -->
<g transform="rotate(28 305 642)">
<rect x="270" y="630" width="70" height="24" rx="6" fill="#444"/>
<rect x="292" y="626" width="20" height="32" rx="3" fill="#fff" stroke="#222" stroke-width="1.08"/>
<rect x="318" y="633" width="14" height="18" fill="#bbb"/>
</g>
</g>
<g id="gauge54" transform="translate(440,385) scale(0.058824)">
<path class="w" d="M215,138 C260,125 320,150 345,205 C360,245 340,290 295,315 L230,335 L180,160 Z" style="stroke-width:1.13"/>
<path class="l" d="M250,140 C295,155 320,200 318,245 C316,275 305,295 285,312" style="stroke-width:1.08"/>
<ellipse class="w" cx="200" cy="245" rx="93" ry="90" style="stroke-width:1.18" transform="rotate(-20 200 245)"/>
<ellipse cx="195" cy="255" rx="24" ry="22" fill="#111"/>
<ellipse cx="175" cy="265" rx="14" ry="13" fill="#777"/>
</g>
<g id="gauge55" transform="translate(490,405) scale(0.058824)">
<path class="w" d="M300,135 C370,120 445,150 482,225 C505,275 490,345 435,388 L340,440 L240,160 Z" style="stroke-width:1.13"/>
<path class="l" d="M345,135 C410,150 458,215 458,290 C458,340 445,375 420,398" style="stroke-width:1.03"/>
<ellipse class="w" cx="285" cy="297" rx="143" ry="143" style="stroke-width:1.18" transform="rotate(-20 285 297)"/>
<path d="M222,305 L288,272 C308,270 320,298 310,320 L245,355 Z" fill="#222"/>
<ellipse cx="232" cy="335" rx="22" ry="27" fill="#fff" stroke="#333" stroke-width="0.88" transform="rotate(-25 232 335)"/>
</g>

<g id="tank43" transform="translate(155,530) scale(0.213235)">
<!-- rear foot -->
<path class="w" d="M470,430 L570,492 L612,470 L612,425 L585,370 L560,382 L530,395 Z" style="stroke-width:1.08"/>
<path class="l" d="M570,492 L570,450 L545,395 M570,450 L612,425 M470,430 L520,400"/>
<ellipse class="l" cx="538" cy="445" rx="9" ry="5"/>
<!-- front foot base -->
<path class="w" d="M195,562 L320,636 L357,616 L357,545 L335,495 L300,505 Z" style="stroke-width:1.08"/>
<!-- body -->
<path class="w" d="M150,260 L440,99 C520,96 615,170 612,260 C610,320 585,365 560,382 L300,520 L170,563 Z" style="stroke-width:1.08"/>
<path class="l" d="M585,182 C600,220 602,275 590,320"/>
<!-- left end cap -->
<ellipse class="w" cx="168.3" cy="427.6" rx="115" ry="141" style="stroke-width:1.08" transform="rotate(-25 168.3 427.6)"/>
<path class="l" d="M282,345 C300,380 312,420 309,458 C306,490 298,512 285,535"/>
<!-- front foot -->
<path class="w" d="M290,548 L318,500 L335,495 L357,545 L357,616 L320,636 L320,590 L302,560 Z" style="stroke-width:1.08"/>
<path class="l" d="M320,590 L357,545 M195,562 L250,540 M302,560 L250,585"/>
<ellipse class="l" cx="288" cy="590" rx="9" ry="5"/>
<!-- rear bracket -->
<path class="w" d="M365,62 L390,48 L580,160 L580,270 L555,280 L555,188 L385,88 L385,142 L365,132 Z" style="stroke-width:1.13"/>
<path class="l" d="M365,62 L555,175 L580,160 M555,175 L555,190"/>
<circle cx="567" cy="185" r="3" fill="#555"/>
<!-- port -->
<path class="w" d="M366,268 L368,328 C372,348 398,348 402,328 L404,268 Z" style="stroke-width:1.08"/>
<ellipse cx="385" cy="266" rx="19" ry="11" fill="#222"/>
<ellipse cx="385" cy="266" rx="9" ry="4.5" fill="#999"/>
<!-- mount plate -->
<path class="w" d="M57.7,240 L59.3,265 L117,290 L130,280 Z"/>
<path class="w" d="M247,349 L247,373 L288,397 L357,351 L357,290 Z" style="stroke-width:1.08"/>
<path class="w" d="M57.7,240 L165.8,175 L357.3,290 L247,349.5 Z" style="stroke-width:1.03"/>
<path d="M57.7,241 L247,350.5" fill="none" stroke="#1a1a1a" stroke-width="1.67"/>
<ellipse cx="90" cy="238" rx="7" ry="4.5" fill="#444"/><ellipse cx="165" cy="196" rx="7" ry="4.5" fill="#444"/><ellipse cx="325" cy="290" rx="7" ry="4.5" fill="#444"/><ellipse cx="250" cy="330" rx="7" ry="4.5" fill="#444"/>
<!-- drain valve 44 -->
<path class="c" d="M471,440 L471,470"/><path d="M461,474 C461,467 482,467 482,474 L482,496 L479,499 L479,519 C479,526 464,526 464,519 L464,499 L461,496 Z" fill="#1a1a1a"/>
<path d="M466,502 L477,504 M466,510 L477,512" stroke="#ccc" stroke-width="0.4"/>
</g>
<g id="feet45_49" transform="translate(140,640) scale(0.235294)">
<ellipse cx="326" cy="135" rx="14" ry="10" fill="#222"/><ellipse cx="326" cy="132" rx="7" ry="3.5" fill="#888"/>

<ellipse cx="327" cy="178" rx="18" ry="13" fill="#1c1c1c"/><ellipse cx="327" cy="176" rx="6" ry="3.5" fill="#bbb"/>
<ellipse cx="326" cy="220" rx="17" ry="11.5" fill="#1c1c1c"/><ellipse cx="326" cy="219" rx="6.5" ry="3.5" fill="#ccc"/>
<path class="w" d="M287,278 L300,335 C310,346 342,346 352,335 L363,278 Z" style="stroke-width:1.13"/>
<ellipse class="w" cx="325" cy="278" rx="38" ry="18" style="stroke-width:1.13"/>
<ellipse class="l" cx="325" cy="275" rx="12" ry="6"/>
<circle cx="325" cy="275" r="4" fill="#666"/><path class="c" d="M326,300 L326,338"/>
<path d="M315,366 C315,360 338,360 338,366 L338,380 L333,384 L333,400 C333,405 320,405 320,400 L320,384 L315,380 Z" fill="#333"/>
</g>

<g id="pipe60" transform="translate(400,540) scale(0.147059)">
<path d="M105,120 L105,300 C105,345 135,360 175,358 L340,276" fill="none" stroke="#222" stroke-width="6.1"/>
<path d="M105,120 L105,300 C105,345 135,360 175,358 L340,276" fill="none" stroke="#fff" stroke-width="3.7"/>
<!-- top nut -->
<path class="w" d="M82,100 L84,118 C90,130 128,130 134,118 L135,100 Z" style="stroke-width:1.13"/>
<ellipse class="w" cx="108" cy="100" rx="26" ry="12" style="stroke-width:1.13"/>
<ellipse class="l" cx="108" cy="100" rx="14" ry="6"/>
<!-- right nut -->
<g transform="rotate(-27 360 262)">
<rect x="332" y="240" width="56" height="46" rx="8" class="w" style="stroke-width:1.13"/>
<path class="l" d="M345,240 L345,286 M360,240 L360,286 M375,240 L375,286"/>
</g>

</g>
<g id="hex62" transform="translate(480,540) scale(0.25)">
<path d="M270,85 L270,135 L170,195 L168,245" fill="none" stroke="#222" stroke-width="3.4" stroke-linejoin="round"/>
<path d="M270,87 L270,135 L170,195 L168,243" fill="none" stroke="#fff" stroke-width="0.85" stroke-linejoin="round"/>
<circle cx="168" cy="246" r="5" fill="#222"/>
<!-- cable 64 -->
<path d="M203,418 C230,395 245,370 262,356 C285,338 305,325 326,318 C350,310 370,305 391,301 L458,292" fill="none" stroke="#222" stroke-width="4.5"/>
<path d="M203,418 C230,395 245,370 262,356 C285,338 305,325 326,318 C350,310 370,305 391,301 L458,292" fill="none" stroke="#fff" stroke-width="2.4"/>
<path class="l" d="M458,290 L480,276 M458,294 L492,298 M458,298 L485,318 M470,285 L495,300 M465,300 L478,325"/>
<path d="M474,281 L484,272 M484,297 L498,300 M478,313 L488,324" stroke="#222" stroke-width="1.86" fill="none"/>
<!-- plug -->
<path class="w" d="M165,410 C180,400 200,405 205,420 C210,435 200,450 185,458 L165,462 C150,455 150,420 165,410 Z" style="stroke-width:1.18"/>
<path class="l" d="M175,408 C165,420 165,450 178,460"/>
<path d="M160,418 L135,430 M165,445 L148,462 M158,432 L138,438" stroke="#222" stroke-width="1.47" fill="none"/>
<path class="w" d="M158,412 L132,426 L136,436 L160,424 Z M163,448 L146,460 L150,468 L168,458 Z" style="stroke-width:1.08"/>
</g>
<g id="cable65" transform="translate(370,520) scale(0.25)">
<path d="M462,496 C400,500 340,510 300,540 C270,565 250,595 212,608" fill="none" stroke="#222" stroke-width="4.5"/>
<path d="M462,496 C400,500 340,510 300,540 C270,565 250,595 212,608" fill="none" stroke="#fff" stroke-width="2.4"/>
<path d="M462,489 L462,503" stroke="#222" stroke-width="0.98" fill="none"/>
<path class="l" d="M212,604 L165,590 M212,608 L160,615 M212,612 L185,648 M200,600 L175,585 M205,615 L180,635"/>
<ellipse class="l" cx="160" cy="590" rx="7" ry="5"/><ellipse class="l" cx="155" cy="617" rx="7" ry="6"/><ellipse class="l" cx="183" cy="650" rx="5" ry="7"/>
<path d="M168,590 L180,594 M163,616 L178,614 M185,644 L192,634" stroke="#222" stroke-width="1.67" fill="none"/>
</g>
<g id="valve61" transform="translate(455,545) scale(0.073529)">
<path d="M60,410 L178,345" stroke="#222" stroke-width="1.18" fill="none"/>
<path class="w" d="M235,272 L250,178 L315,150 C330,128 390,118 430,145 C470,175 490,230 478,272 C470,292 450,298 385,306 L350,346 L270,346 Z" style="stroke-width:1.13"/>
<path d="M340,126 C380,115 440,140 470,195 C488,235 485,275 445,295" fill="none" stroke="#111" stroke-width="2.06"/>
<path class="l" d="M312,152 C350,180 380,250 385,306"/>
<circle cx="320" cy="166" r="20" fill="#1a1a1a"/>
<path d="M205,298 L262,272 L285,338 L222,362 Z" fill="#3a3a3a"/>
<ellipse cx="207" cy="330" rx="22" ry="33" fill="#fff" stroke="#1a1a1a" stroke-width="1.67" transform="rotate(-20 207 330)"/>
</g>
<circle cx="457.6" cy="528" r="0.8" fill="#555"/>

<g id="leaders" class="ld">
<line x1="165" y1="30" x2="188" y2="40.7"/>
<line x1="165.5" y1="46" x2="188.7" y2="57"/>
<line x1="165.5" y1="62.5" x2="188" y2="73"/>
<line x1="165.5" y1="94.5" x2="181" y2="101"/>
<line x1="152.5" y1="124" x2="175.5" y2="135.5"/>
<line x1="152" y1="154" x2="175.5" y2="165"/>
<line x1="153.5" y1="173.5" x2="176" y2="184.5"/>
<line x1="153" y1="196" x2="173.7" y2="206"/>
<line x1="153" y1="215.5" x2="175.5" y2="225.7"/>
<line x1="153" y1="236" x2="175.5" y2="247"/>
<line x1="152.5" y1="268" x2="175.5" y2="279"/>
<line x1="152.5" y1="291.7" x2="175.5" y2="302.5"/>
<line x1="253" y1="112.5" x2="269" y2="104.5"/>
<line x1="117" y1="303.7" x2="141.2" y2="317"/>
<line x1="109.5" y1="333" x2="127" y2="341.2"/>
<line x1="117" y1="354.5" x2="130" y2="361.2"/>
<line x1="112.5" y1="410.7" x2="142.5" y2="427"/>
<line x1="295" y1="303.7" x2="322.5" y2="290"/>
<line x1="66.7" y1="529.5" x2="93.2" y2="543"/>
<line x1="87" y1="517.5" x2="113.7" y2="530.7"/>
<line x1="120.5" y1="501.2" x2="146.7" y2="514.5"/>
<line x1="154.5" y1="481.7" x2="181.2" y2="495"/>
<line x1="220" y1="441.5" x2="247.5" y2="455"/>
<line x1="263.7" y1="416.2" x2="292.5" y2="430"/>
<line x1="319.5" y1="381.2" x2="348" y2="395"/>
<line x1="370" y1="350.7" x2="398.7" y2="365"/>
<line x1="400" y1="333.2" x2="429.5" y2="348"/>
<line x1="427" y1="316.7" x2="457" y2="331.2"/>
<line x1="447" y1="305" x2="477" y2="319.5"/>
<line x1="473.7" y1="288.2" x2="503.7" y2="302.7"/>
<line x1="393.7" y1="205" x2="425.5" y2="221"/>
<line x1="402.5" y1="199.5" x2="433.7" y2="215"/>
<line x1="413.2" y1="193" x2="444.5" y2="208"/>
<line x1="494.5" y1="263.7" x2="525.5" y2="278.7"/>
<line x1="515" y1="243.7" x2="546.2" y2="258.7"/>
<line x1="542.5" y1="58" x2="557" y2="65.7"/>
<line x1="541.2" y1="77.5" x2="556.2" y2="85"/>
<line x1="622.5" y1="194" x2="637.5" y2="202.5"/>
<line x1="606" y1="218.7" x2="622.5" y2="227.5"/>
<line x1="353" y1="425.5" x2="375" y2="413.7"/>
<line x1="382.5" y1="443.7" x2="403.7" y2="431"/>
<line x1="397" y1="453.7" x2="419.5" y2="441"/>
<line x1="420" y1="468.7" x2="442" y2="455.7"/>
<line x1="462" y1="402" x2="477" y2="410.5"/>
<line x1="518.7" y1="433.7" x2="534.5" y2="442.5"/>
<line x1="498.7" y1="505" x2="510" y2="511.5"/>
<line x1="468.7" y1="472" x2="480" y2="478"/>
<line x1="468.7" y1="505" x2="480" y2="511"/>
<line x1="392.5" y1="546.5" x2="412" y2="556.2"/>
<line x1="392.5" y1="566.2" x2="410" y2="575.5"/>
<line x1="460.5" y1="551.2" x2="476" y2="559.2"/>
<line x1="509.2" y1="573" x2="526.2" y2="582"/>
<line x1="503.7" y1="593.2" x2="520" y2="600.7"/>
<line x1="567" y1="632.5" x2="583.7" y2="641.2"/>
<line x1="458" y1="655" x2="475.5" y2="663.7"/>
<line x1="148.5" y1="628" x2="162.5" y2="621"/>
<line x1="241.2" y1="642.5" x2="251.2" y2="637.5"/>
<line x1="229.4" y1="675.8" x2="248.2" y2="686"/>
<line x1="229.4" y1="686" x2="248.2" y2="696"/>
<line x1="229.4" y1="696.5" x2="248.2" y2="707"/>
<line x1="229.4" y1="714.8" x2="248.2" y2="724.7"/>
<line x1="229.4" y1="731.3" x2="248.2" y2="741.2"/>
<line x1="477" y1="440" x2="493" y2="431"/>
<line x1="422.5" y1="417.5" x2="436" y2="410.5"/>
<polyline points="158.7,456 166.4,450.6 211,472.5"/>
<line x1="77.5" y1="74.5" x2="106.3" y2="69.4" style="stroke:#666"/>
</g>
<g id="dashdot" class="d">
<polyline points="236,430 236,508.7 199.6,529.5 199.6,587"/>
<polyline points="284.4,566.5 404.7,497 435.7,513.7 447.6,507"/>
<polyline points="238,586.4 305.4,623.7 384,579.3 481,634 481,569.3"/>
<line x1="458" y1="457" x2="458" y2="497"/>
</g>
<g id="labels">
<text x="153.9" y="27.1">36</text>
<text x="154.7" y="45.6">35</text>
<text x="154.7" y="61.6">34</text>
<text x="154.2" y="89.1">33</text>
<text x="140.7" y="123.1">32</text>
<text x="140.2" y="150.1">31</text>
<text x="140.7" y="170.1">30</text>
<text x="140.2" y="189.1">29</text>
<text x="140.2" y="209.6">28</text>
<text x="140.2" y="233.6">27</text>
<text x="140.2" y="262.6">26</text>
<text x="140.2" y="286.6">25</text>
<text x="65.2" y="76.6">37</text>
<text x="270.2" y="103.6">38</text>
<text x="104.7" y="297.1">10</text>
<text x="97.7" y="332.1">09</text>
<text x="98.9" y="353.6">08</text>
<text x="104.7" y="407.1">07</text>
<text x="325.2" y="285.6">24</text>
<text x="95.9" y="548.3">01</text>
<text x="117.7" y="534.6">02</text>
<text x="151.4" y="518.3">03</text>
<text x="186.2" y="499.1">04</text>
<text x="203.9" y="480.8">05, <tspan dx="1.2">06</tspan></text>
<text x="250.2" y="460.6">11</text>
<text x="295.7" y="435.6">12</text>
<text x="351.4" y="400.1">13</text>
<text x="403.2" y="369.6">14</text>
<text x="433.2" y="352.6">15</text>
<text x="459.7" y="336.6">16</text>
<text x="479.7" y="325.1">17</text>
<text x="507.2" y="307.8">18</text>
<text x="380.2" y="203.6">19</text>
<text x="389.7" y="197.6">20</text>
<text x="403.9" y="188.6">21</text>
<text x="529.4" y="282.6">22</text>
<text x="550.2" y="262.6">23</text>
<text x="536" y="56.9">39</text>
<text x="535.5" y="75.9">40</text>
<text x="640.9" y="207.6">41</text>
<text x="626.2" y="231.6">42</text>
<text x="345.2" y="430.6">50</text>
<text x="373.9" y="449.6">51</text>
<text x="389.2" y="460.1">52</text>
<text x="410.9" y="475.1">53</text>
<text x="480.2" y="415.3">54</text>
<text x="537.2" y="447.6">55</text>
<text x="514.7" y="517.6">56</text>
<text x="483.9" y="484.1">57</text>
<text x="484.7" y="518.3">58</text>
<text x="385.7" y="547.6">59</text>
<text x="385.7" y="567.1">60</text>
<text x="453.2" y="549.6">61</text>
<text x="502.7" y="572.1">62</text>
<text x="497.2" y="592.1">63</text>
<text x="585.2" y="645.8">64</text>
<text x="477.2" y="667.8">65</text>
<text class="b" x="135.5" y="635">43</text>
<text class="b" x="250" y="691.3">45</text>
<text class="b" x="250" y="700.7">46</text>
<text class="b" x="250" y="711.8">47</text>
<text class="b" x="250" y="729">48</text>
<text class="b" x="250" y="746.4">49</text>
<text x="232.8" y="648.6" style="font-size:8px;fill:#666">44</text>
</g>
</g>
</svg>
</body></html>
